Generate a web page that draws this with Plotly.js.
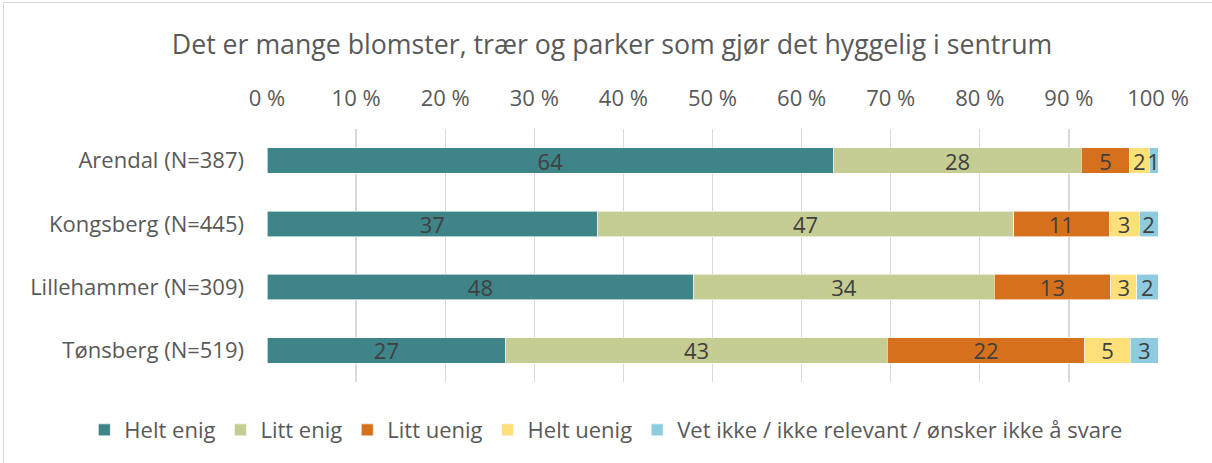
<!DOCTYPE html>
<html>
<head>
<meta charset="utf-8">
<script src="https://cdn.plot.ly/plotly-3.0.1.min.js"></script>
<style>
html,body{margin:0;padding:0;background:#fff;}
#frame{position:absolute;left:3px;top:2px;width:1220px;height:470px;border:1px solid #d9d9d9;box-sizing:border-box;}
#chart{position:absolute;left:0;top:0;width:1212px;height:463px;}
</style>
</head>
<body>
<div id="frame"></div>
<div id="chart"></div>
<script>
const categories = ["Arendal (N=387)", "Kongsberg (N=445)", "Lillehammer (N=309)", "Tønsberg (N=519)"];
const seriesNames = ["Helt enig", "Litt enig", "Litt uenig", "Helt uenig", "Vet ikke / ikke relevant / ønsker ikke å svare"];
const heltEnig  = [63.6, 37.1, 47.9, 26.8];
const littEnig  = [27.8, 46.7, 33.7, 42.8];
const littUenig = [5.4, 10.7, 13.1, 22.2];
const heltUenig = [2.2, 3.4, 2.9, 5.1];
const vetIkke   = [1.0, 2.1, 2.4, 3.1];
const xTicks = [0,10,20,30,40,50,60,70,80,90,100];
const xTickLabels = ["0 %","10 %","20 %","30 %","40 %","50 %","60 %","70 %","80 %","90 %","100 %"];
const colors = ["#3e8489", "#c6cd93", "#d5711c", "#fee07a", "#8ecbde"];

const allSeries = [heltEnig, littEnig, littUenig, heltUenig, vetIkke];
const font = "'Open Sans', sans-serif";
const traces = allSeries.map((vals, i) => ({
  type: "bar",
  orientation: "h",
  name: seriesNames[i],
  y: categories,
  x: vals,
  text: vals.map(v => String(Math.round(v))),
  textposition: "inside",
  insidetextanchor: "middle",
  textangle: 0,
  constraintext: "none",
  textfont: {family: font, size: 22, color: "#404040"},
  marker: {color: colors[i], line: {width: 0.6, color: "#ffffff"}},
  hoverinfo: "x+y+name"
}));

const layout = {
  width: 1212, height: 463,
  paper_bgcolor: "rgba(0,0,0,0)",
  plot_bgcolor: "rgba(0,0,0,0)",
  margin: {l: 267, r: 54, t: 129, b: 81},
  barmode: "stack",
  bargap: 0.6,
  uniformtext: {mode: "show", minsize: 10},
  font: {family: font, color: "#595959"},
  title: {text: "Det er mange blomster, trær og parker som gjør det hyggelig i sentrum",
          font: {family: font, size: 26.7, color: "#595959"},
          x: 0.505, xref: "container", xanchor: "center",
          y: 0.903, yref: "container", yanchor: "middle"},
  xaxis: {
    side: "top", range: [0, 100], tickvals: xTicks, ticktext: xTickLabels,
    showgrid: true, gridcolor: "#d9d9d9", gridwidth: 1.3,
    zeroline: false, showline: false, ticks: "",
    ticklabelstandoff: 18,
    tickfont: {family: font, size: 22, color: "#595959"},
    fixedrange: true
  },
  yaxis: {
    autorange: "reversed", showgrid: false, zeroline: false, showline: false,
    ticks: "", ticklabelstandoff: 22,
    tickfont: {family: font, size: 22, color: "#595959"},
    fixedrange: true
  },
  showlegend: true,
  legend: {
    orientation: "h", xref: "paper", x: -0.205, xanchor: "left",
    yref: "paper", y: -0.19, yanchor: "middle",
    font: {family: font, size: 22, color: "#595959"},
    itemwidth: 30, tracegroupgap: 0, traceorder: "normal"
  }
};

Plotly.newPlot("chart", traces, layout, {displayModeBar: false, staticPlot: true});
</script>
</body>
</html>
